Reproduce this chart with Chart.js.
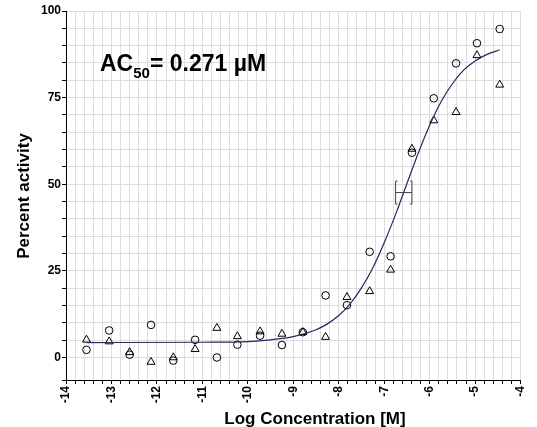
<!DOCTYPE html>
<html>
<head>
<meta charset="utf-8">
<script src="https://cdn.jsdelivr.net/npm/chart.js@4.4.1/dist/chart.umd.min.js"></script>
<style>
  body { margin: 0; background: #fff; }
  #wrap { width: 537px; height: 427px; }
</style>
</head>
<body>
<div id="wrap"><canvas id="chart"></canvas></div>
<script>
// log10 of the concentration [M] in each well of the dilution series
const logConc = [-13.55, -13.05, -12.60, -12.13, -11.64, -11.16, -10.68, -10.23, -9.73, -9.25,
                 -8.79, -8.29, -7.82, -7.32, -6.86, -6.39, -5.91, -5.42, -4.96, -4.46];
// percent activity, replicate 1 (circles) and replicate 2 (triangles)
const rep1 = [2.2, 7.8, 0.8, 9.4, -0.9, 5.1, 0.0, 3.7, 6.3, 3.6,
              7.3, 17.9, 15.1, 30.5, 29.2, 59.1, 74.8, 84.9, 90.7, 94.8];
const rep2 = [5.1, 4.6, 1.5, -1.3, 0.0, 2.4, 8.5, 6.1, 7.5, 6.8,
              7.3, 5.9, 17.4, 19.1, 25.3, 60.2, 68.4, 70.8, 87.2, 78.7];
// fitted curve, sampled along the x axis
const fitX = [-13.55, -11, -10, -9.5, -9, -8.5, -8.25, -8, -7.75, -7.5, -7.25,
              -7, -6.75, -6.5, -6.25, -6, -5.75, -5.5, -5.25, -5, -4.75, -4.46];
const fitY = [4.3, 4.4, 4.6, 5.1, 6.0, 8.0, 9.7, 12.1, 15.5, 20.1, 25.9,
              33.1, 41.3, 50.2, 59.0, 67.0, 73.8, 79.0, 83.0, 85.6, 87.4, 88.8];
// AC50 (µM), its range on the log axis and the response level at the midpoint
const ac50uM = 0.271;
const ac50Range = [-6.75, -6.39];
const ac50Level = 47.6;

const xTickLabels = ['-14', '-13', '-12', '-11', '-10', '-9', '-8', '-7', '-6', '-5', '-4'];
const yTickLabels = ['0', '25', '50', '75', '100'];

const FONT = '"Liberation Sans", Arial, sans-serif';
Chart.defaults.font.family = FONT;
Chart.defaults.color = '#000';

const toPoints = (xs, ys) => xs.map((v, i) => ({ x: v, y: ys[i] }));

const annotations = {
  id: 'annotations',
  afterDatasetsDraw(c) {
    const { ctx, scales: { x, y } } = c;
    // error bar around the AC50
    const l = x.getPixelForValue(ac50Range[0]);
    const r = x.getPixelForValue(ac50Range[1]);
    const cy = y.getPixelForValue(ac50Level);
    const h = 11.5;
    ctx.save();
    ctx.strokeStyle = '#444';
    ctx.lineWidth = 1;
    ctx.beginPath();
    ctx.moveTo(l, cy); ctx.lineTo(r, cy);
    ctx.moveTo(l + 2, cy - h); ctx.lineTo(l, cy - h); ctx.lineTo(l, cy + h); ctx.lineTo(l + 2, cy + h);
    ctx.moveTo(r - 2, cy - h); ctx.lineTo(r, cy - h); ctx.lineTo(r, cy + h); ctx.lineTo(r - 2, cy + h);
    ctx.stroke();

    // AC50 label
    ctx.fillStyle = '#000';
    ctx.textBaseline = 'alphabetic';
    ctx.textAlign = 'left';
    let tx = 100;
    ctx.font = 'bold 23px ' + FONT;
    ctx.fillText('AC', tx, 71);
    tx += ctx.measureText('AC').width;
    ctx.font = 'bold 15px ' + FONT;
    ctx.fillText('50', tx, 78);
    tx += ctx.measureText('50').width;
    ctx.font = 'bold 23px ' + FONT;
    ctx.fillText('= ' + ac50uM + ' µM', tx, 71);
    ctx.restore();
  },
  afterDraw(c) {
    const { ctx } = c;
    ctx.save();
    ctx.fillStyle = '#000';
    ctx.font = 'bold 17px ' + FONT;
    ctx.textAlign = 'center';
    ctx.textBaseline = 'alphabetic';
    ctx.fillText('Log Concentration [M]', 315, 424);
    ctx.translate(29, 196);
    ctx.rotate(-Math.PI / 2);
    ctx.fillText('Percent activity', 0, 0);
    ctx.restore();
  }
};

function initChart() {
  const ctx = document.getElementById('chart').getContext('2d');
  new Chart(ctx, {
    type: 'scatter',
    data: {
      datasets: [
        {
          label: 'fit',
          data: toPoints(fitX, fitY),
          showLine: true,
          borderColor: '#23285e',
          borderWidth: 1.2,
          pointRadius: 0,
          cubicInterpolationMode: 'monotone',
          fill: false
        },
        {
          label: 'replicate 1',
          data: toPoints(logConc, rep1),
          pointStyle: 'circle',
          pointRadius: 3.8,
          borderColor: '#000',
          borderWidth: 1,
          backgroundColor: 'rgba(0,0,0,0)'
        },
        {
          label: 'replicate 2',
          data: toPoints(logConc, rep2),
          pointStyle: 'triangle',
          pointRadius: 4.6,
          borderColor: '#000',
          borderWidth: 1,
          backgroundColor: 'rgba(0,0,0,0)'
        }
      ]
    },
    options: {
      responsive: true,
      maintainAspectRatio: false,
      animation: false,
      layout: { padding: { top: 11, right: 10, left: 0, bottom: 0 } },
      plugins: {
        legend: { display: false },
        tooltip: { enabled: false }
      },
      scales: {
        x: {
          type: 'linear',
          min: -14,
          max: -4,
          afterFit: s => { s.height = 47; },
          border: { color: '#000', width: 1 },
          grid: { color: '#dcdcdc', tickColor: '#000', tickLength: 4 },
          ticks: {
            stepSize: 0.2,
            autoSkip: false,
            minRotation: 90,
            maxRotation: 90,
            padding: 2,
            font: { size: 12, weight: 'bold' },
            callback: v => {
              const i = xTickLabels.indexOf(String(Math.round(v * 1000) / 1000));
              return i >= 0 ? xTickLabels[i] : '';
            }
          }
        },
        y: {
          min: -6.5,
          max: 100,
          afterFit: s => { s.width = 66; },
          border: { color: '#000', width: 1 },
          grid: { color: '#dcdcdc', tickColor: '#000', tickLength: 4 },
          ticks: {
            stepSize: 5,
            autoSkip: false,
            padding: 1,
            font: { size: 12, weight: 'bold' },
            callback: v => {
              const i = yTickLabels.indexOf(String(v));
              return i >= 0 ? yTickLabels[i] : '';
            }
          }
        }
      }
    },
    plugins: [annotations]
  });
}

initChart();
</script>
</body>
</html>
